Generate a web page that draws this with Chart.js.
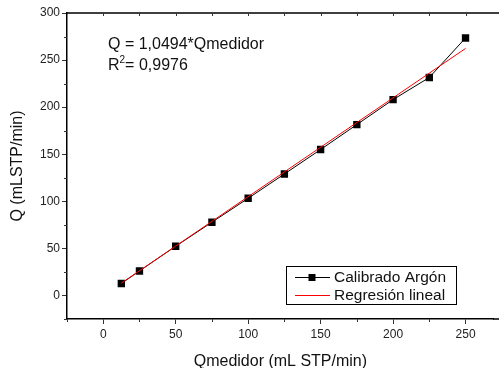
<!DOCTYPE html>
<html>
<head>
<meta charset="utf-8">
<script src="https://cdn.jsdelivr.net/npm/chart.js@4/dist/chart.umd.min.js"></script>
<style>
html,body{margin:0;padding:0;background:#fff;}
#wrap{width:499px;height:368px;position:relative;}
canvas{display:block;}
</style>
</head>
<body>
<div id="wrap"><canvas id="c" width="499" height="368" style="width:499px;height:368px"></canvas></div>
<script>
// ---- data ----
const qMedidor = [12.5, 25, 50, 75, 100, 125, 150, 175, 200, 225, 250];
const qCalibrado = [12.7, 26, 52.3, 77.8, 103.2, 129, 155, 181.5, 208, 231.5, 273.5];
const slope = 1.0494;
const regX = [12.5, 250];
const regY = [13.12, 262.35];
const xMajorTicks = [0, 50, 100, 150, 200, 250];
const xMinorTicks = [-25, 25, 75, 125, 175, 225];
const yMajorTicks = [0, 50, 100, 150, 200, 250, 300];
const yMinorTicks = [-25, 25, 75, 125, 175, 225, 275];
const seriesNames = ['Calibrado Argón', 'Regresión lineal'];
const xTitle = 'Qmedidor (mL STP/min)';
const yTitle = 'Q (mLSTP/min)';
const eqText = 'Q = 1,0494*Qmedidor';
const r2Value = '0,9976';

const FONT = '"Liberation Sans", Arial, sans-serif';

const decor = {
  id: 'decor',
  afterDraw(chart) {
    const ctx = chart.ctx;
    const xs = chart.scales.x, ys = chart.scales.y;
    const a = chart.chartArea;
    ctx.save();
    // top frame line and extension of bottom axis to the edge
    ctx.strokeStyle = '#000';
    ctx.lineWidth = 1.5;
    ctx.beginPath();
    ctx.moveTo(a.left, a.top);
    ctx.lineTo(chart.width, a.top);
    ctx.moveTo(a.right - 1, a.bottom);
    ctx.lineTo(chart.width, a.bottom);
    ctx.stroke();
    // top inward ticks
    ctx.lineWidth = 1;
    ctx.strokeStyle = '#333';
    [...xMajorTicks, ...xMinorTicks].forEach(v => {
      const px = Math.round(xs.getPixelForValue(v)) + 0.5;
      if (px <= a.left + 1) return;
      ctx.beginPath();
      ctx.moveTo(px, a.top);
      ctx.lineTo(px, a.top + 3);
      ctx.stroke();
    });
    // minor outward ticks
    xMinorTicks.forEach(v => {
      const px = Math.round(xs.getPixelForValue(v)) + 0.5;
      ctx.beginPath();
      ctx.moveTo(px, a.bottom);
      ctx.lineTo(px, a.bottom + 3);
      ctx.stroke();
    });
    yMinorTicks.forEach(v => {
      const py = Math.round(ys.getPixelForValue(v)) + 0.5;
      ctx.beginPath();
      ctx.moveTo(a.left, py);
      ctx.lineTo(a.left - 3, py);
      ctx.stroke();
    });
    // annotation
    ctx.fillStyle = '#111';
    ctx.font = '16px ' + FONT;
    ctx.textBaseline = 'middle';
    ctx.textAlign = 'left';
    ctx.fillText(eqText, 108, 45);
    ctx.fillText('R', 108, 66);
    const rw = ctx.measureText('R').width;
    ctx.font = '10px ' + FONT;
    ctx.fillText('2', 108 + rw, 60);
    const sw = ctx.measureText('2').width;
    ctx.font = '16px ' + FONT;
    ctx.fillText('= ' + r2Value, 108 + rw + sw, 66);

    // legend box
    const bx = 286, by = 266, bw = 170, bh = 38;
    ctx.fillStyle = '#fff';
    ctx.fillRect(bx, by, bw, bh);
    ctx.strokeStyle = '#000';
    ctx.lineWidth = 1;
    ctx.strokeRect(bx + 0.5, by + 0.5, bw, bh);
    const ds = chart.data.datasets;
    const rows = [277, 295];
    ds.forEach((d, i) => {
      const y = rows[i] + 0.5;
      ctx.strokeStyle = d.borderColor;
      ctx.lineWidth = 1;
      ctx.beginPath();
      ctx.moveTo(295, y);
      ctx.lineTo(330, y);
      ctx.stroke();
      if (d.pointRadius > 0) {
        ctx.fillStyle = d.pointBackgroundColor;
        ctx.fillRect(312 - 3.5, y - 3.5, 7, 7);
      }
      ctx.fillStyle = '#111';
      ctx.font = '15.5px ' + FONT;
      ctx.fillText(d.label, 334, rows[i] + 1);
    });
    ctx.restore();
  }
};

new Chart(document.getElementById('c'), {
  type: 'scatter',
  data: {
    datasets: [
      {
        label: seriesNames[0],
        data: qMedidor.map((x, i) => ({x: x, y: qCalibrado[i]})),
        showLine: true,
        borderColor: '#000',
        borderWidth: 1,
        pointStyle: 'rect',
        pointRadius: 5.2,
        pointBackgroundColor: '#000',
        pointBorderColor: '#000',
        pointBorderWidth: 0,
        order: 2
      },
      {
        label: seriesNames[1],
        data: regX.map((x, i) => ({x: x, y: regY[i]})),
        showLine: true,
        borderColor: '#ff0000',
        borderWidth: 1,
        pointRadius: 0,
        order: 1
      }
    ]
  },
  options: {
    responsive: false,
    animation: false,
    devicePixelRatio: 1,
    layout: {padding: {top: 13, right: 0, left: 0, bottom: 0}},
    plugins: {legend: {display: false}, tooltip: {enabled: false}},
    scales: {
      x: {
        type: 'linear',
        min: -25,
        max: 269.5,
        afterBuildTicks: s => { s.ticks = xMajorTicks.map(v => ({value: v})); },
        afterFit: s => { s.height = 49; },
        grid: {drawOnChartArea: false, tickLength: 5, color: '#333', lineWidth: 1},
        border: {display: true, color: '#000', width: 1.5},
        ticks: {color: '#222', font: {family: FONT, size: 12}, padding: 3, maxRotation: 0},
        title: {display: true, text: xTitle, color: '#111', font: {family: FONT, size: 16}, padding: {top: 2, bottom: -3}}
      },
      y: {
        type: 'linear',
        min: -25,
        max: 300,
        afterBuildTicks: s => { s.ticks = yMajorTicks.map(v => ({value: v})); },
        afterFit: s => { s.width = 67; },
        grid: {drawOnChartArea: false, tickLength: 5, color: '#333', lineWidth: 1},
        border: {display: true, color: '#000', width: 1.5},
        ticks: {color: '#222', font: {family: FONT, size: 12}, padding: 2},
        title: {display: true, text: yTitle, color: '#111', font: {family: FONT, size: 16}, padding: {top: 8, bottom: 0}}
      }
    }
  },
  plugins: [decor]
});
</script>
</body>
</html>
